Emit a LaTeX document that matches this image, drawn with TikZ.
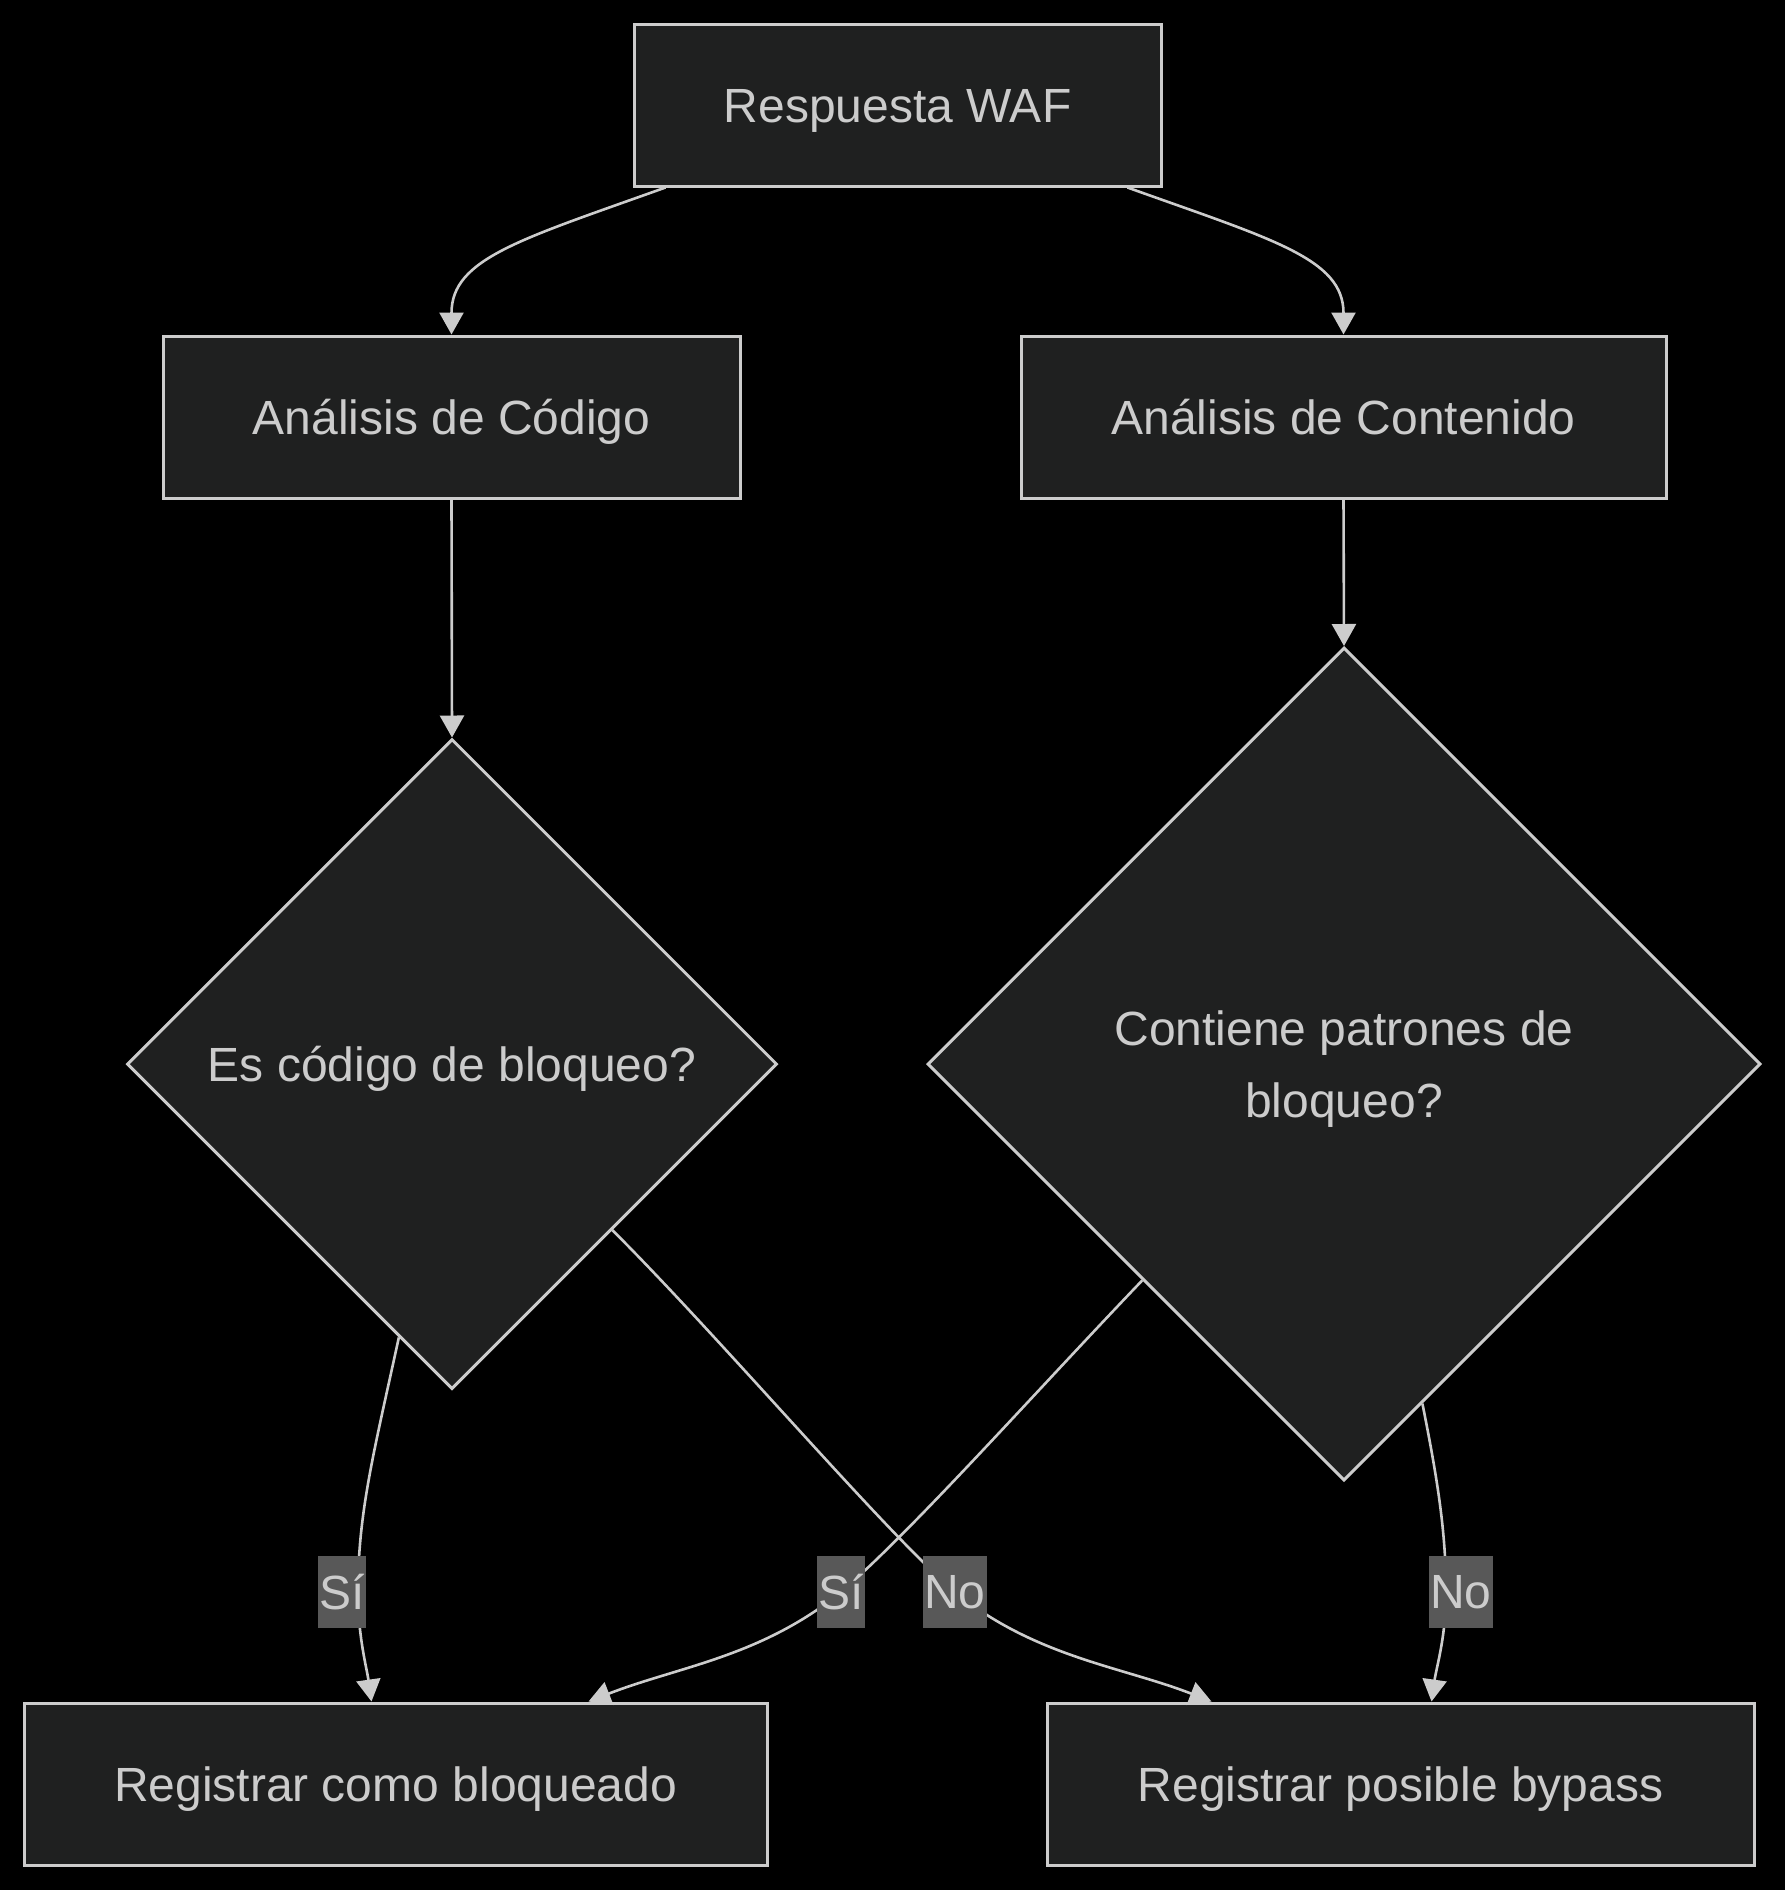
\documentclass[tikz,border=0pt]{standalone}
\usepackage{fontspec}
\setmainfont{Liberation Sans}
\usetikzlibrary{shapes.geometric,arrows.meta}
\definecolor{nodeFill}{HTML}{1F2020}
\definecolor{nodeLine}{HTML}{CCCCCC}
\definecolor{labelFill}{HTML}{585858}
\definecolor{textGray}{HTML}{CCCCCC}

\tikzset{
  boxNode/.style={draw=nodeLine, fill=nodeFill, line width=3pt, text=textGray,
    inner sep=0pt, minimum height=162pt, text height=34.4pt, text depth=0pt},
  decisionNode/.style={diamond, aspect=1, draw=nodeLine, fill=nodeFill, line width=3pt,
    text=textGray, inner sep=0pt, align=center, text depth=0pt},
  flowLine/.style={draw=nodeLine, line width=2.6pt, -{Triangle[width=24pt,length=22pt]}},
  edgeLabel/.style={fill=labelFill, text=textGray, inner xsep=1pt, inner ysep=0pt,
    minimum height=72pt},
}

\begin{document}
\begin{tikzpicture}[x=1pt, y=-1pt, every node/.style={font=\fontsize{48}{72}\selectfont}]
     % Background.
     \fill [black] (0,0) rectangle (1785,1890);
     \useasboundingbox (0,0) rectangle (1785,1890);
     % Boxes.
     \node [boxNode, minimum width=527pt] (waf) at (897.5,105) {Respuesta WAF};
     \node [boxNode, minimum width=577pt] (cod) at (451.5,417) {Análisis de Código};
     \node [boxNode, minimum width=645pt] (con) at (1343.5,417) {Análisis de Contenido};
     \node [boxNode, minimum width=743pt] (blq) at (395.5,1784) {Registrar como bloqueado};
     \node [boxNode, minimum width=707pt] (byp) at (1400.5,1784) {Registrar posible bypass};
     % Decisions.
     \node [decisionNode, minimum width=650pt, minimum height=650pt] (dcod) at (452,1064)
       {Es código de bloqueo?};
     \node [decisionNode, minimum width=833pt, minimum height=833pt] (dcon) at (1344,1064)
       {Contiene patrones de\\bloqueo?};
     % Label spots.
     \coordinate (si1) at (342,1592);
     \coordinate (si2) at (841,1592);
     \coordinate (no1) at (955,1592);
     \coordinate (no2) at (1461,1592);
     % Connectors.
     \draw [flowLine] ([xshift=-232pt]waf.south) .. controls +(-145,52) and +(0,-76) .. (cod.north);
     \draw [flowLine] ([xshift=230pt]waf.south) .. controls +(145,52) and +(0,-76) .. (con.north);
     \draw [flowLine] (cod.south) -- (dcod.north);
     \draw [flowLine] (con.south) -- (dcon.north);
     \draw [flowLine] (dcod.-101) .. controls +(-25,115) and +(0,-80) .. ([xshift=16pt]si1)
       .. controls +(0,45) and +(-5,-35) .. ([xshift=-24pt]blq.north);
     \draw [flowLine] (dcod.-46) .. controls +(110,110) and +(-70,-60) .. (no1)
       .. controls +(80,65) and +(-90,-35) .. ([xshift=-189pt]byp.north);
     \draw [flowLine] (dcon.-133) .. controls +(-110,115) and +(70,-60) .. (si2)
       .. controls +(-80,65) and +(90,-35) .. ([xshift=193pt]blq.north);
     \draw [flowLine] (dcon.-77) .. controls +(15,75) and +(0,-60) .. ([xshift=-15pt]no2)
       .. controls +(0,45) and +(5,-35) .. ([xshift=31pt]byp.north);
     % Labels.
     \node [edgeLabel] (lsi1) at (si1) {Sí};
     \node [edgeLabel] (lsi2) at (si2) {Sí};
     \node [edgeLabel] (lno1) at (no1) {No};
     \node [edgeLabel] (lno2) at (no2) {No};
\end{tikzpicture}
\end{document}
